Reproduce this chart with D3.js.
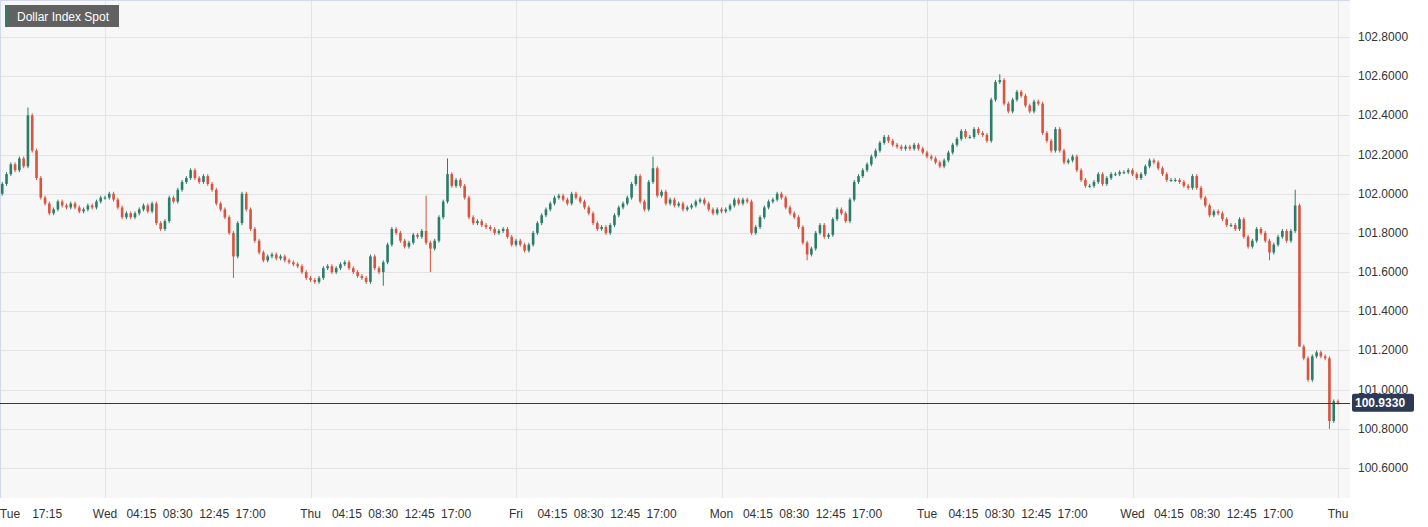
<!DOCTYPE html>
<html>
<head>
<meta charset="utf-8">
<script src="https://cdn.jsdelivr.net/npm/d3@7"></script>
<style>
  body { margin: 0; background: #fff; font-family: "Liberation Sans", Arial, sans-serif; }
</style>
</head>
<body>
<div id="chart"></div>
<script>
// 30-minute closes, hours counted on trading days (Fri -> Mon contiguous)
var firstOpen = 102.00;
var tueCloses = [102.05,102.10,102.15,102.12,102.18,102.14,102.40,102.22,102.08,101.98,101.95,101.90,
                 101.92,101.96,101.94,101.93,101.95,101.93,101.91,101.92,101.94,101.93,101.96,101.98];
var wedCloses = [101.98,102.00,101.97,101.93,101.88,101.90,101.88,101.90,101.92,101.94,101.91,101.95,
                 101.85,101.82,101.86,101.98,101.96,102.02,102.06,102.08,102.12,102.08,102.06,102.09,
                 102.05,102.02,101.95,101.92,101.88,101.80,101.68,101.85,102.00,101.92,101.82,101.76,
                 101.70,101.66,101.68,101.69,101.67,101.68,101.66,101.65,101.64,101.63,101.60,101.57];
var thuCloses = [101.56,101.55,101.57,101.62,101.63,101.60,101.62,101.64,101.65,101.62,101.60,101.58,
                 101.57,101.55,101.68,101.62,101.60,101.65,101.74,101.82,101.80,101.76,101.73,101.75,
                 101.79,101.78,101.81,101.75,101.72,101.76,101.88,101.96,102.10,102.04,102.07,102.04,
                 101.98,101.88,101.85,101.86,101.84,101.83,101.82,101.80,101.81,101.82,101.78,101.74];
var friCloses = [101.76,101.74,101.71,101.74,101.80,101.85,101.89,101.92,101.95,101.98,101.99,101.97,
                 101.95,102.00,101.98,101.96,101.93,101.90,101.85,101.82,101.83,101.80,101.84,101.89,
                 101.93,101.95,101.98,102.05,102.09,101.96,101.92,102.06,102.13,101.99,102.01,101.95,
                 101.97,101.94,101.95,101.92,101.93,101.94,101.96,101.97,101.95,101.92,101.90,101.92];
var monCloses = [101.91,101.92,101.94,101.97,101.95,101.97,101.96,101.80,101.83,101.88,101.93,101.96,
                 101.97,102.00,101.98,101.93,101.90,101.88,101.83,101.75,101.69,101.72,101.80,101.84,
                 101.78,101.79,101.87,101.92,101.90,101.86,101.97,102.06,102.09,102.12,102.15,102.19,
                 102.22,102.26,102.29,102.27,102.25,102.24,102.23,102.24,102.23,102.25,102.23,102.21];
var tue2Closes = [102.19,102.18,102.16,102.14,102.17,102.21,102.25,102.28,102.32,102.29,102.29,102.33,
                  102.31,102.30,102.27,102.48,102.57,102.58,102.46,102.42,102.48,102.52,102.50,102.45,
                  102.42,102.47,102.46,102.31,102.27,102.22,102.33,102.22,102.16,102.17,102.19,102.12,
                  102.07,102.04,102.04,102.06,102.10,102.05,102.08,102.10,102.10,102.11,102.11,102.12];
var wed2Closes = [102.10,102.08,102.10,102.14,102.17,102.16,102.13,102.10,102.07,102.07,102.07,102.06,
                  102.04,102.03,102.09,102.03,101.98,101.94,101.89,101.91,101.90,101.87,101.84,101.84,
                  101.82,101.87,101.78,101.73,101.76,101.82,101.80,101.76,101.70,101.74,101.78,101.81,
                  101.76,101.81,101.94,101.22,101.16,101.05,101.17,101.19,101.17,101.16,100.84,100.94];
var thu2Closes = [100.933];

// notable wick extremes [candle index, high, low]
var wickSpikes = [[6,102.44,null],[54,null,101.57],[89,null,101.53],[99,101.99,null],[100,null,101.60],
                  [104,102.18,null],[152,102.19,null],[188,null,101.66],[233,102.61,null],
                  [302,102.02,null],[303,null,101.22],[296,null,101.66],[310,null,100.80]];

var lastPrice = 100.933;
var yTicks = [100.6,100.8,101.0,101.2,101.4,101.6,101.8,102.0,102.2,102.4,102.6,102.8];
var dayTicks = [[12.9,"Tue"],[24,"Wed"],[48,"Thu"],[72,"Fri"],[96,"Mon"],[120,"Tue"],[144,"Wed"],[168,"Thu"]];
var timeTicks = [[17.25,"17:15"]];
[24,48,72,96,120,144].forEach(function(d) {
    timeTicks.push([d + 4.25,"04:15"],[d + 8.5,"08:30"],[d + 12.75,"12:45"],[d + 17,"17:00"]);
});

var closes = [].concat(tueCloses, wedCloses, thuCloses, friCloses, monCloses, tue2Closes, wed2Closes, thu2Closes);
var candles = closes.map(function(c, i) {
    var o = i == 0 ? firstOpen : closes[i - 1];
    var hi = Math.max(o, c) + 0.01, lo = Math.min(o, c) - 0.01;
    return { h: 12 + 0.5 * i, o: o, c: c, hi: hi, lo: lo };
});
wickSpikes.forEach(function(s) {
    if (s[1] != null) candles[s[0]].hi = s[1];
    if (s[2] != null) candles[s[0]].lo = s[2];
});

const width = 1428, height = 527;
const plotW = 1350, plotH = 498;

const x = d3.scaleLinear().domain([24, 168]).range([105, 1338]);
const y = d3.scaleLinear().domain([100.6, 102.8]).range([468, 37]);

let svg = d3.select('#chart').append('svg')
    .attr('width', width).attr('height', height);

svg.append('rect').attr('x', 0).attr('y', 0).attr('width', plotW).attr('height', plotH)
    .attr('fill', '#f7f7f7');

// grid
svg.append('g').selectAll('line').data(yTicks).enter().append('line')
    .attr('x1', 0).attr('x2', plotW)
    .attr('y1', d => Math.round(y(d)) + 0.5).attr('y2', d => Math.round(y(d)) + 0.5)
    .attr('stroke', '#e4e4e4');
svg.append('g').selectAll('line').data(dayTicks.slice(1)).enter().append('line')
    .attr('y1', 0).attr('y2', plotH)
    .attr('x1', d => Math.round(x(d[0])) + 0.5).attr('x2', d => Math.round(x(d[0])) + 0.5)
    .attr('stroke', '#e4e4e4');
svg.append('line').attr('x1', 0.5).attr('x2', 0.5).attr('y1', 0).attr('y2', plotH)
    .attr('stroke', '#d3d8ea');
svg.append('line').attr('x1', 0).attr('x2', plotW).attr('y1', 0.5).attr('y2', 0.5)
    .attr('stroke', '#d3d8ea');

// candles
const up = '#2a7d69', down = '#d9533f';
let cg = svg.append('g');
cg.selectAll('line').data(candles).enter().append('line')
    .attr('x1', d => x(d.h)).attr('x2', d => x(d.h))
    .attr('y1', d => y(d.hi)).attr('y2', d => y(d.lo))
    .attr('stroke', d => d.c >= d.o ? up : down).attr('stroke-width', 1);
cg.selectAll('rect').data(candles).enter().append('rect')
    .attr('x', d => x(d.h) - 1.3)
    .attr('width', 2.6)
    .attr('y', d => y(Math.max(d.o, d.c)))
    .attr('height', d => Math.max(1, Math.abs(y(d.o) - y(d.c))))
    .attr('fill', d => d.c >= d.o ? up : down);

// last price line
svg.append('line').attr('x1', 0).attr('x2', plotW)
    .attr('y1', Math.round(y(lastPrice)) + 0.5).attr('y2', Math.round(y(lastPrice)) + 0.5)
    .attr('stroke', '#2c3a55');

// y axis labels
svg.append('g').selectAll('text').data(yTicks).enter().append('text')
    .attr('x', 1358).attr('y', d => y(d) + 4)
    .attr('font-size', 12).attr('fill', '#333')
    .text(d => d.toFixed(4));

svg.append('rect').attr('x', 1352).attr('y', y(lastPrice) - 9).attr('width', 62).attr('height', 18)
    .attr('rx', 2).attr('fill', '#2c3a55');
svg.append('text').attr('x', 1355).attr('y', y(lastPrice) + 4.5)
    .attr('font-size', 12).attr('font-weight', 'bold').attr('fill', '#fff')
    .text(lastPrice.toFixed(4));

// x axis labels
svg.append('g').selectAll('text').data(dayTicks.concat(timeTicks)).enter().append('text')
    .attr('x', d => x(d[0])).attr('y', 518)
    .attr('text-anchor', 'middle')
    .attr('font-size', 12).attr('fill', '#333')
    .text(d => d[1]);

// title
svg.append('rect').attr('x', 5).attr('y', 5).attr('width', 114).attr('height', 22).attr('fill', '#616161');
svg.append('rect').attr('x', 5).attr('y', 5).attr('width', 3).attr('height', 22).attr('fill', '#2a7d69');
svg.append('text').attr('x', 17).attr('y', 21).attr('font-size', 12).attr('fill', '#fff')
    .text('Dollar Index Spot');
</script>
</body>
</html>
